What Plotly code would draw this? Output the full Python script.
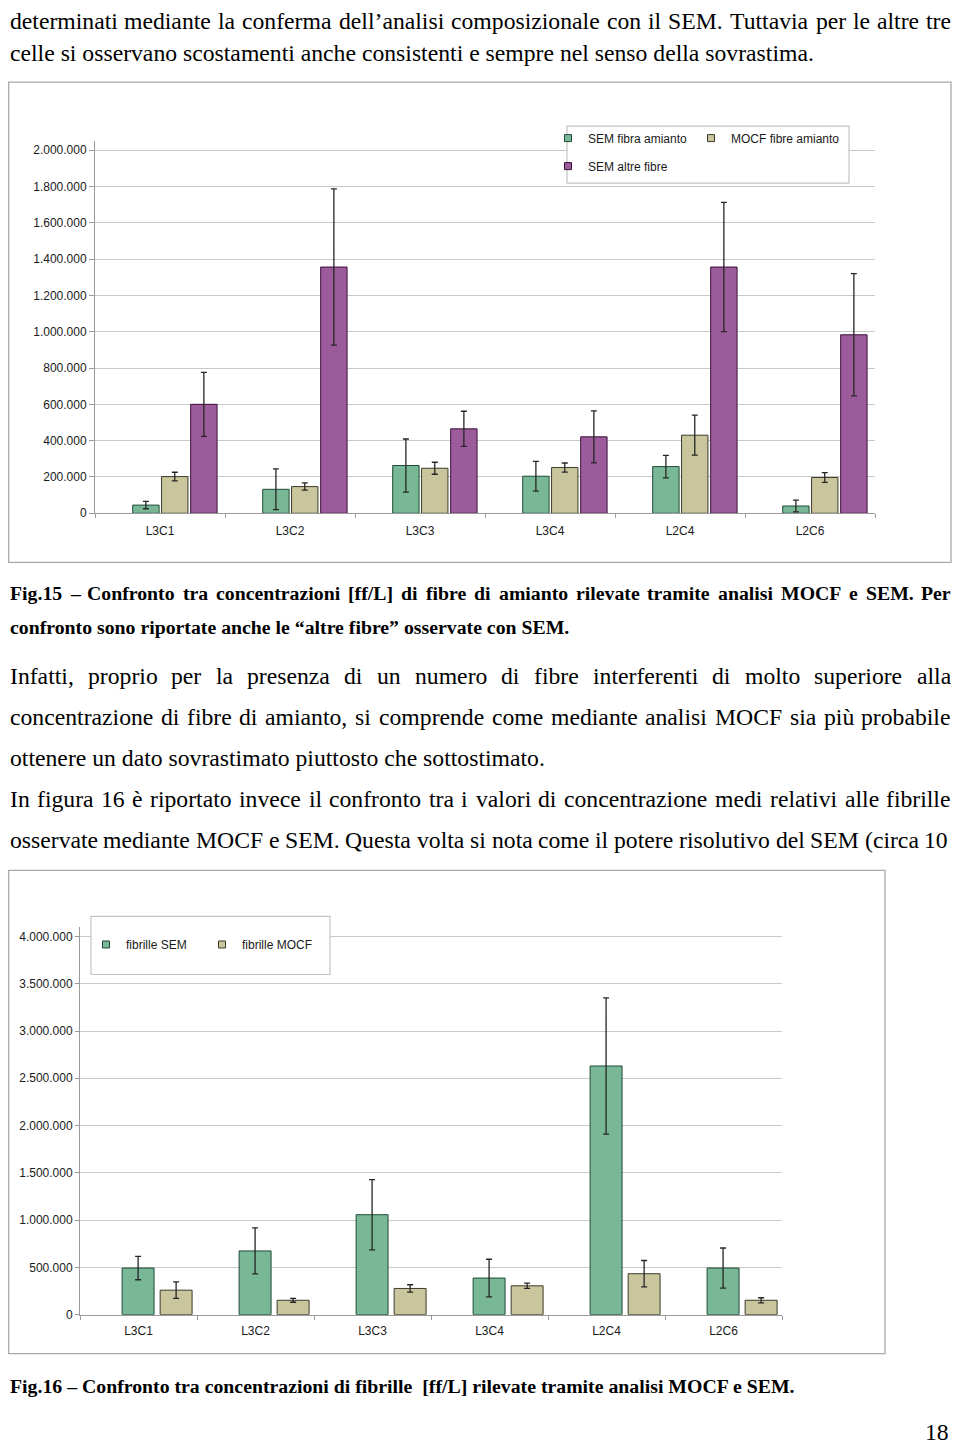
import plotly.graph_objects as go

# ---------------- data ----------------
CATEGORIES = ["L3C1", "L3C2", "L3C3", "L3C4", "L2C4", "L2C6"]

# Fig.15 - fibre di amianto [ff/L]
SEM_FIBRA_AMIANTO = [45000, 132000, 263000, 204000, 257000, 40000]
SEM_FIBRA_AMIANTO_ERR = [20000, 112000, 146000, 82000, 62000, 32000]
MOCF_FIBRE_AMIANTO = [202000, 147000, 248000, 252000, 430000, 197000]
MOCF_FIBRE_AMIANTO_ERR = [24000, 20000, 33000, 25000, 110000, 27000]
SEM_ALTRE_FIBRE = [600000, 1356000, 465000, 421000, 1356000, 983000]
SEM_ALTRE_FIBRE_ERR = [176000, 430000, 97000, 143000, 356000, 337000]
Y1_TICKS = [0, 200000, 400000, 600000, 800000, 1000000, 1200000,
            1400000, 1600000, 1800000, 2000000]

# Fig.16 - fibrille [ff/L]
FIBRILLE_SEM = [493000, 674000, 1057000, 387000, 2630000, 493000]
FIBRILLE_SEM_ERR = [124000, 243000, 371000, 199000, 720000, 212000]
FIBRILLE_MOCF = [259000, 152000, 277000, 305000, 433000, 152000]
FIBRILLE_MOCF_ERR = [87000, 21000, 39000, 28000, 140000, 27000]
Y2_TICKS = [0, 500000, 1000000, 1500000, 2000000, 2500000, 3000000,
            3500000, 4000000]

# page text
PARA_TOP = [
    "determinati mediante la conferma dell\u2019analisi composizionale con il SEM. Tuttavia per le altre tre",
    "celle si osservano scostamenti anche consistenti e sempre nel senso della sovrastima.",
]
CAPTION_15 = [
    "Fig.15 \u2013 Confronto tra concentrazioni [ff/L] di fibre di amianto rilevate tramite analisi MOCF e SEM. Per",
    "confronto sono riportate anche le \u201caltre fibre\u201d osservate con SEM.",
]
PARA_MID = [
    "Infatti, proprio per la presenza di un numero di fibre interferenti di molto superiore alla",
    "concentrazione di fibre di amianto, si comprende come mediante analisi MOCF sia pi\u00f9 probabile",
    "ottenere un dato sovrastimato piuttosto che sottostimato.",
    "In figura 16 \u00e8 riportato invece il confronto tra i valori di concentrazione medi relativi alle fibrille",
    "osservate mediante MOCF e SEM. Questa volta si nota come il potere risolutivo del SEM  (circa 10",
]
CAPTION_16 = "Fig.16 \u2013 Confronto tra concentrazioni di fibrille  [ff/L] rilevate tramite analisi MOCF e SEM."
PAGE_NUMBER = "18"

# ---------------- page geometry helpers ----------------
# the html body has an 8px margin: the figure sits at (8, 8) in the window;
# KY compensates the slight vertical squeeze seen in the captured page
OX, OY = 8, 8
W, H = 944, 1446
KY = 0.9947


def px(x):
    return (x - OX) / W


def py(y):
    return 1 - (y / KY - OY) / H


# Times (Liberation Serif) advance widths, 1/1000 em
_TR = dict(zip("abcdefghijklmnopqrstuvwxyz",
               [444, 500, 444, 500, 444, 333, 500, 500, 278, 278, 500, 278, 778,
                500, 500, 500, 500, 333, 389, 278, 500, 500, 722, 500, 500, 444]))
_TR.update(dict(zip("ABCDEFGHIJKLMNOPQRSTUVWXYZ",
                    [722, 667, 667, 722, 611, 556, 722, 722, 333, 389, 722, 611, 889,
                     722, 722, 556, 722, 667, 556, 611, 722, 722, 944, 722, 722, 611])))
_TR.update({" ": 250, ",": 250, ".": 250, "(": 333, ")": 333, "[": 333, "]": 333,
            "/": 278, "\u2019": 333, "\u201c": 444, "\u201d": 444, "\u2013": 500,
            "\u00e8": 444, "\u00f9": 500})
for d in "0123456789":
    _TR[d] = 500
_TB = dict(zip("abcdefghijklmnopqrstuvwxyz",
               [500, 556, 444, 556, 444, 333, 500, 556, 278, 333, 556, 278, 833,
                556, 500, 556, 556, 444, 389, 333, 556, 500, 722, 500, 500, 444]))
_TB.update(dict(zip("ABCDEFGHIJKLMNOPQRSTUVWXYZ",
                    [722, 667, 722, 722, 667, 611, 778, 778, 389, 500, 778, 667, 944,
                     722, 778, 611, 778, 722, 556, 667, 722, 722, 1000, 722, 722, 667])))
_TB.update({" ": 250, ",": 250, ".": 250, "(": 333, ")": 333, "[": 333, "]": 333,
            "/": 278, "\u2019": 333, "\u201c": 500, "\u201d": 500, "\u2013": 500})
for d in "0123456789":
    _TB[d] = 500


def text_width(s, size, bold=False):
    table = _TB if bold else _TR
    return sum(table.get(c, 500) for c in s) * size / 1000.0


annotations = []
SERIF = "Liberation Serif, Times New Roman, serif"
TEXT_X0 = 8.5
TEXT_X1 = 950


def add_line(text, yc, size, bold=False, justify_to=None, x0=TEXT_X0):
    fam = SERIF
    if justify_to is None:
        t = "<b>" + text + "</b>" if bold else text
        annotations.append(dict(x=px(x0), y=py(yc), xref="paper", yref="paper",
                                xanchor="left", yanchor="middle", showarrow=False,
                                text=t, borderpad=0,
                                font=dict(family=fam, size=size, color="black")))
        return
    words = text.split()
    widths = [text_width(w, size, bold) for w in words]
    gap = (justify_to - x0 - sum(widths)) / (len(words) - 1)
    x = x0
    for w, wd in zip(words, widths):
        t = "<b>" + w + "</b>" if bold else w
        annotations.append(dict(x=px(x), y=py(yc), xref="paper", yref="paper",
                                xanchor="left", yanchor="middle", showarrow=False,
                                text=t, borderpad=0,
                                font=dict(family=fam, size=size, color="black")))
        x += wd + gap


BODY = 23.7
CAP = 19.8
add_line(PARA_TOP[0], 21, BODY, justify_to=TEXT_X1)
add_line(PARA_TOP[1], 53, BODY)
add_line(CAPTION_15[0], 593, CAP, bold=True, justify_to=TEXT_X1)
add_line(CAPTION_15[1], 627, CAP, bold=True)
add_line(PARA_MID[0], 676, BODY, justify_to=TEXT_X1)
add_line(PARA_MID[1], 717, BODY, justify_to=TEXT_X1)
add_line(PARA_MID[2], 758, BODY)
add_line(PARA_MID[3], 799, BODY, justify_to=TEXT_X1)
add_line(PARA_MID[4], 840, BODY, justify_to=TEXT_X1 - 3)
add_line(CAPTION_16, 1385, CAP, bold=True)
annotations.append(dict(x=px(950), y=py(1431), xref="paper", yref="paper",
                        xanchor="right", yanchor="middle", showarrow=False,
                        text=PAGE_NUMBER, borderpad=0,
                        font=dict(family=SERIF, size=BODY, color="black")))

# ---------------- colours ----------------
GREEN = "#79b897"
GREEN_LINE = "#1f4a35"
OLIVE = "#c9c59c"
OLIVE_LINE = "#3d3b2a"
PURPLE = "#9c5c9c"
PURPLE_LINE = "#3a0f3a"
ERR_COL = "#262626"
GRID = "#c9c9c9"
AXIS = "#9a9a9a"
SANS = "Liberation Sans, Arial, sans-serif"
TICKFONT = dict(family=SANS, size=12, color="#1a1a1a")

fig = go.Figure()


def err(arr):
    return dict(type="data", array=arr, color=ERR_COL, thickness=1.3, width=3)


# Fig.15 bars
for vals, errs, col, lcol, off in [
    (SEM_FIBRA_AMIANTO, SEM_FIBRA_AMIANTO_ERR, GREEN, GREEN_LINE, -0.21),
    (MOCF_FIBRE_AMIANTO, MOCF_FIBRE_AMIANTO_ERR, OLIVE, OLIVE_LINE, 0.012),
    (SEM_ALTRE_FIBRE, SEM_ALTRE_FIBRE_ERR, PURPLE, PURPLE_LINE, 0.236),
]:
    fig.add_trace(go.Bar(x=CATEGORIES, y=vals, width=0.203, offset=off,
                         marker=dict(color=col, line=dict(color=lcol, width=1)),
                         error_y=err(errs), showlegend=False,
                         xaxis="x", yaxis="y"))

# Fig.16 bars
for vals, errs, col, lcol, off in [
    (FIBRILLE_SEM, FIBRILLE_SEM_ERR, GREEN, GREEN_LINE, -0.14),
    (FIBRILLE_MOCF, FIBRILLE_MOCF_ERR, OLIVE, OLIVE_LINE, 0.185),
]:
    fig.add_trace(go.Bar(x=CATEGORIES, y=vals, width=0.273, offset=off,
                         marker=dict(color=col, line=dict(color=lcol, width=1)),
                         error_y=err(errs), showlegend=False,
                         xaxis="x2", yaxis="y2"))

# legend entries (small square swatches)
for name, col, lcol, leg, xa, ya in [
    ("SEM fibra amianto", GREEN, GREEN_LINE, "legend", "x", "y"),
    ("MOCF fibre amianto", OLIVE, OLIVE_LINE, "legend2", "x", "y"),
    ("SEM altre fibre", PURPLE, PURPLE_LINE, "legend3", "x", "y"),
    ("fibrille SEM", GREEN, GREEN_LINE, "legend4", "x2", "y2"),
    ("fibrille MOCF", OLIVE, OLIVE_LINE, "legend5", "x2", "y2"),
]:
    fig.add_trace(go.Scatter(x=[None], y=[None], mode="markers", name=name,
                             marker=dict(symbol="square", size=7, color=col,
                                         line=dict(color=lcol, width=1)),
                             legend=leg, xaxis=xa, yaxis=ya, hoverinfo="skip"))


def legend_at(text_x, yc):
    return dict(x=px(text_x - 40), y=py(yc), xanchor="left", yanchor="middle",
                orientation="h", bgcolor="rgba(0,0,0,0)", borderwidth=0,
                font=dict(family=SANS, size=12, color="#1a1a1a"), itemwidth=30)


shapes = [
    # chart frames
    dict(type="rect", xref="paper", yref="paper", x0=px(8.7), x1=px(951),
         y0=py(562), y1=py(82), line=dict(color="#a9a9a9", width=1.3), layer="below"),
    dict(type="rect", xref="paper", yref="paper", x0=px(8.7), x1=px(885),
         y0=py(1353), y1=py(870), line=dict(color="#a9a9a9", width=1.3), layer="below"),
    # legend boxes
    dict(type="rect", xref="paper", yref="paper", x0=px(567), x1=px(849),
         y0=py(183), y1=py(126), line=dict(color="#c4c4c4", width=1.2),
         fillcolor="white", layer="above"),
    dict(type="rect", xref="paper", yref="paper", x0=px(91), x1=px(330),
         y0=py(974), y1=py(916), line=dict(color="#c4c4c4", width=1.2),
         fillcolor="white", layer="above"),
]

common_x = dict(type="category", tickson="boundaries", ticks="outside", ticklen=4,
                tickcolor=AXIS, showline=True, linecolor=AXIS, linewidth=1,
                showgrid=False, tickfont=TICKFONT, range=[-0.5, 5.5], fixedrange=True)
common_y = dict(showline=True, linecolor=AXIS, linewidth=1, ticks="outside",
                tickcolor=AXIS, gridcolor=GRID, gridwidth=1, zeroline=False,
                tickformat=",d", tickfont=TICKFONT, fixedrange=True)

fig.update_layout(
    width=W, height=H,
    margin=dict(l=0, r=0, t=0, b=0),
    paper_bgcolor="white", plot_bgcolor="white",
    separators=",.",
    barmode="overlay",
    showlegend=True,
    xaxis=dict(common_x, domain=[px(95), px(875)], anchor="y", ticklabelstandoff=6),
    yaxis=dict(common_y, domain=[py(513), py(513 - 363 * 1.025)], anchor="x",
               range=[0, 2050000], tickvals=Y1_TICKS, ticklen=5),
    xaxis2=dict(common_x, domain=[px(80), px(782)], anchor="y2", ticklabelstandoff=5),
    yaxis2=dict(common_y, domain=[py(1314), py(1314 - 378 * 1.025)], anchor="x2",
                range=[0, 4100000], tickvals=Y2_TICKS, ticklen=4),
    legend=legend_at(588, 138),
    legend2=legend_at(731, 138),
    legend3=legend_at(588, 166),
    legend4=legend_at(126, 944),
    legend5=legend_at(242, 944),
    shapes=shapes,
    annotations=annotations,
)

fig.write_html("out.html")
